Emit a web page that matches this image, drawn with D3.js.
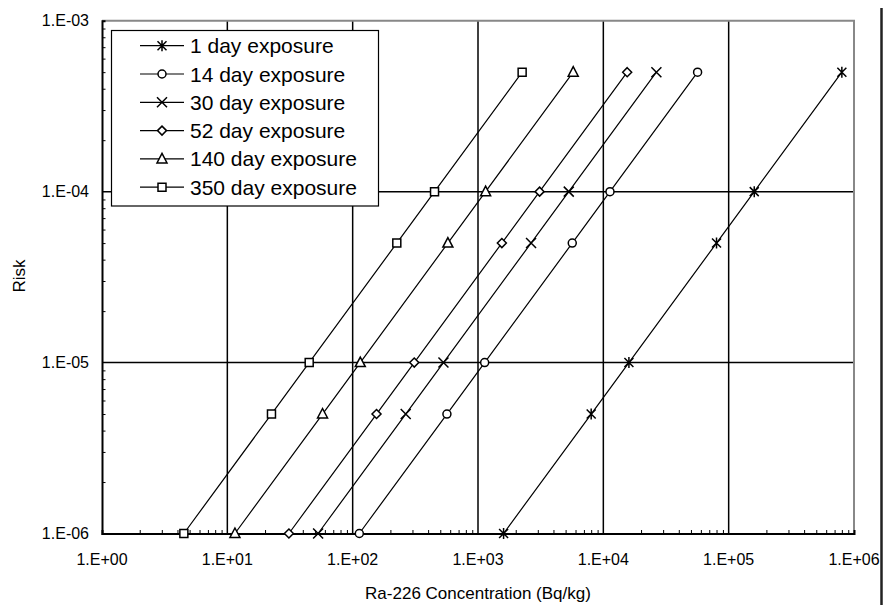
<!DOCTYPE html>
<html>
<head>
<meta charset="utf-8">
<script src="https://cdn.jsdelivr.net/npm/d3@7"></script>
<style>
  body { margin: 0; background: #fff; }
  svg { display: block; font-family: "Liberation Sans", Arial, sans-serif; }
</style>
</head>
<body>
<div id="chart"></div>
<script>
// risk levels shared by all series
const risks = [1e-6, 5e-6, 1e-5, 5e-5, 1e-4, 5e-4];

// Ra-226 concentration (Bq/kg) giving each risk level
const day1 = [1600, 8000, 16000, 80000, 160000, 800000];
const day14 = [113, 565, 1130, 5650, 11300, 56500];
const day30 = [53, 265, 530, 2650, 5300, 26500];
const day52 = [31, 155, 310, 1550, 3100, 15500];
const day140 = [11.5, 57.5, 115, 575, 1150, 5750];
const day350 = [4.5, 22.5, 45, 225, 450, 2250];

const seriesNames = ['1 day exposure', '14 day exposure', '30 day exposure',
  '52 day exposure', '140 day exposure', '350 day exposure'];
const seriesValues = [day1, day14, day30, day52, day140, day350];
const markerTypes = ['asterisk', 'circle', 'times', 'diamond', 'triangle', 'square'];

const xTicks = [1e0, 1e1, 1e2, 1e3, 1e4, 1e5, 1e6];
const yTicks = [1e-6, 1e-5, 1e-4, 1e-3];

const W = 883, H = 605;
const margin = { top: 20.7, right: 29, bottom: 71.5, left: 102 };
const width = W - margin.left - margin.right;
const height = H - margin.top - margin.bottom;

const svg = d3.select('#chart').append('svg')
  .attr('width', W)
  .attr('height', H);

const g = svg.append('g')
  .attr('transform', `translate(${margin.left}, ${margin.top})`);

const x = d3.scaleLog().domain([1, 1e6]).range([0, width]);
const y = d3.scaleLog().domain([1e-6, 1e-3]).range([height, 0]);

const fmt = (v) => {
  const e = Math.round(Math.log10(v));
  const s = Math.abs(e) < 10 ? '0' + Math.abs(e) : '' + Math.abs(e);
  return '1.E' + (e < 0 ? '-' : '+') + s;
};

// grid lines
g.selectAll('.vgrid')
  .data(xTicks.slice(1, -1))
  .enter()
  .append('line')
  .attr('x1', (d) => x(d)).attr('x2', (d) => x(d))
  .attr('y1', 0).attr('y2', height)
  .attr('stroke', '#000')
  .attr('stroke-width', 1.5);

g.selectAll('.hgrid')
  .data(yTicks.slice(1, -1))
  .enter()
  .append('line')
  .attr('y1', (d) => y(d)).attr('y2', (d) => y(d))
  .attr('x1', 0).attr('x2', width)
  .attr('stroke', '#000')
  .attr('stroke-width', 1.5);

// gray top and right frame
g.append('path')
  .attr('d', `M0,0H${width}V${height}`)
  .attr('fill', 'none')
  .attr('stroke', '#888')
  .attr('stroke-width', 2);

// minor ticks
const minorX = [];
for (let e = 0; e < 6; e++) for (let m = 2; m <= 9; m++) minorX.push(m * Math.pow(10, e));
const minorY = [];
for (let e = -6; e < -3; e++) for (let m = 2; m <= 9; m++) minorY.push(m * Math.pow(10, e));

const xAxis = d3.axisBottom(x).tickValues(minorX).tickSize(-3.5).tickFormat('');
g.append('g')
  .attr('class', 'x-axis')
  .attr('transform', `translate(0, ${height})`)
  .call(xAxis);

const yAxis = d3.axisLeft(y).tickValues(minorY).tickSize(-3.5).tickFormat('');
g.append('g')
  .attr('class', 'y-axis')
  .call(yAxis);

d3.selectAll('.x-axis path, .y-axis path').attr('stroke', '#000').attr('stroke-width', 2);
d3.selectAll('.x-axis line, .y-axis line').attr('stroke', '#000').attr('stroke-width', 1);

// tick labels
g.selectAll('.xlab')
  .data(xTicks)
  .enter()
  .append('text')
  .attr('x', (d) => x(d))
  .attr('y', height + 32)
  .attr('text-anchor', 'middle')
  .attr('font-size', 16)
  .text(fmt);

g.selectAll('.ylab')
  .data(yTicks)
  .enter()
  .append('text')
  .attr('x', -13)
  .attr('y', (d) => y(d) + 5.5)
  .attr('text-anchor', 'end')
  .attr('font-size', 16)
  .text(fmt);

// axis titles
svg.append('text')
  .attr('x', 478)
  .attr('y', 599)
  .attr('text-anchor', 'middle')
  .attr('font-size', 17)
  .text('Ra-226 Concentration (Bq/kg)');

svg.append('text')
  .attr('transform', 'translate(25, 276) rotate(-90)')
  .attr('text-anchor', 'middle')
  .attr('font-size', 17)
  .text('Risk');

// marker shapes
function markerPath(type) {
  switch (type) {
    case 'asterisk': return 'M0,-5.5V5.5M-4.5,-4.5L4.5,4.5M-4.5,4.5L4.5,-4.5';
    case 'times': return 'M-5,-5L5,5M-5,5L5,-5';
    case 'circle': return 'M4,0A4,4 0 1,1 -4,0A4,4 0 1,1 4,0Z';
    case 'diamond': return 'M0,-4.5L4.5,0L0,4.5L-4.5,0Z';
    case 'triangle': return 'M0,-5.5L5,4L-5,4Z';
    case 'square': return 'M-4,-4H4V4H-4Z';
  }
}

const line = d3.line()
  .x((d) => x(d[0]))
  .y((d) => y(d[1]));

seriesValues.forEach((vals, i) => {
  const pts = vals.map((v, j) => [v, risks[j]]);
  g.append('path')
    .datum(pts)
    .attr('d', line)
    .attr('fill', 'none')
    .attr('stroke', '#000')
    .attr('stroke-width', 1.2);

  g.selectAll('.m' + i)
    .data(pts)
    .enter()
    .append('path')
    .attr('transform', (d) => `translate(${x(d[0])}, ${y(d[1])})`)
    .attr('d', markerPath(markerTypes[i]))
    .attr('fill', '#fff')
    .attr('stroke', '#000')
    .attr('stroke-width', 1.5);
});

// legend
const legend = svg.append('g');
legend.append('rect')
  .attr('x', 111.5).attr('y', 30.5)
  .attr('width', 267).attr('height', 175.5)
  .attr('fill', '#fff')
  .attr('stroke', '#000')
  .attr('stroke-width', 1.2);

seriesNames.forEach((name, i) => {
  const ly = 45.7 + i * 28.3;
  legend.append('line')
    .attr('x1', 140).attr('x2', 184)
    .attr('y1', ly).attr('y2', ly)
    .attr('stroke', '#000')
    .attr('stroke-width', 1.2);
  legend.append('path')
    .attr('transform', `translate(162, ${ly})`)
    .attr('d', markerPath(markerTypes[i]))
    .attr('fill', '#fff')
    .attr('stroke', '#000')
    .attr('stroke-width', 1.5);
  legend.append('text')
    .attr('x', 190)
    .attr('y', ly + 7.5)
    .attr('font-size', 21)
    .text(name);
});

// page edge line at the far right
svg.append('line')
  .attr('x1', 881.5).attr('x2', 881.5)
  .attr('y1', 8).attr('y2', H)
  .attr('stroke', '#222')
  .attr('stroke-width', 2.5);
</script>
</body>
</html>
